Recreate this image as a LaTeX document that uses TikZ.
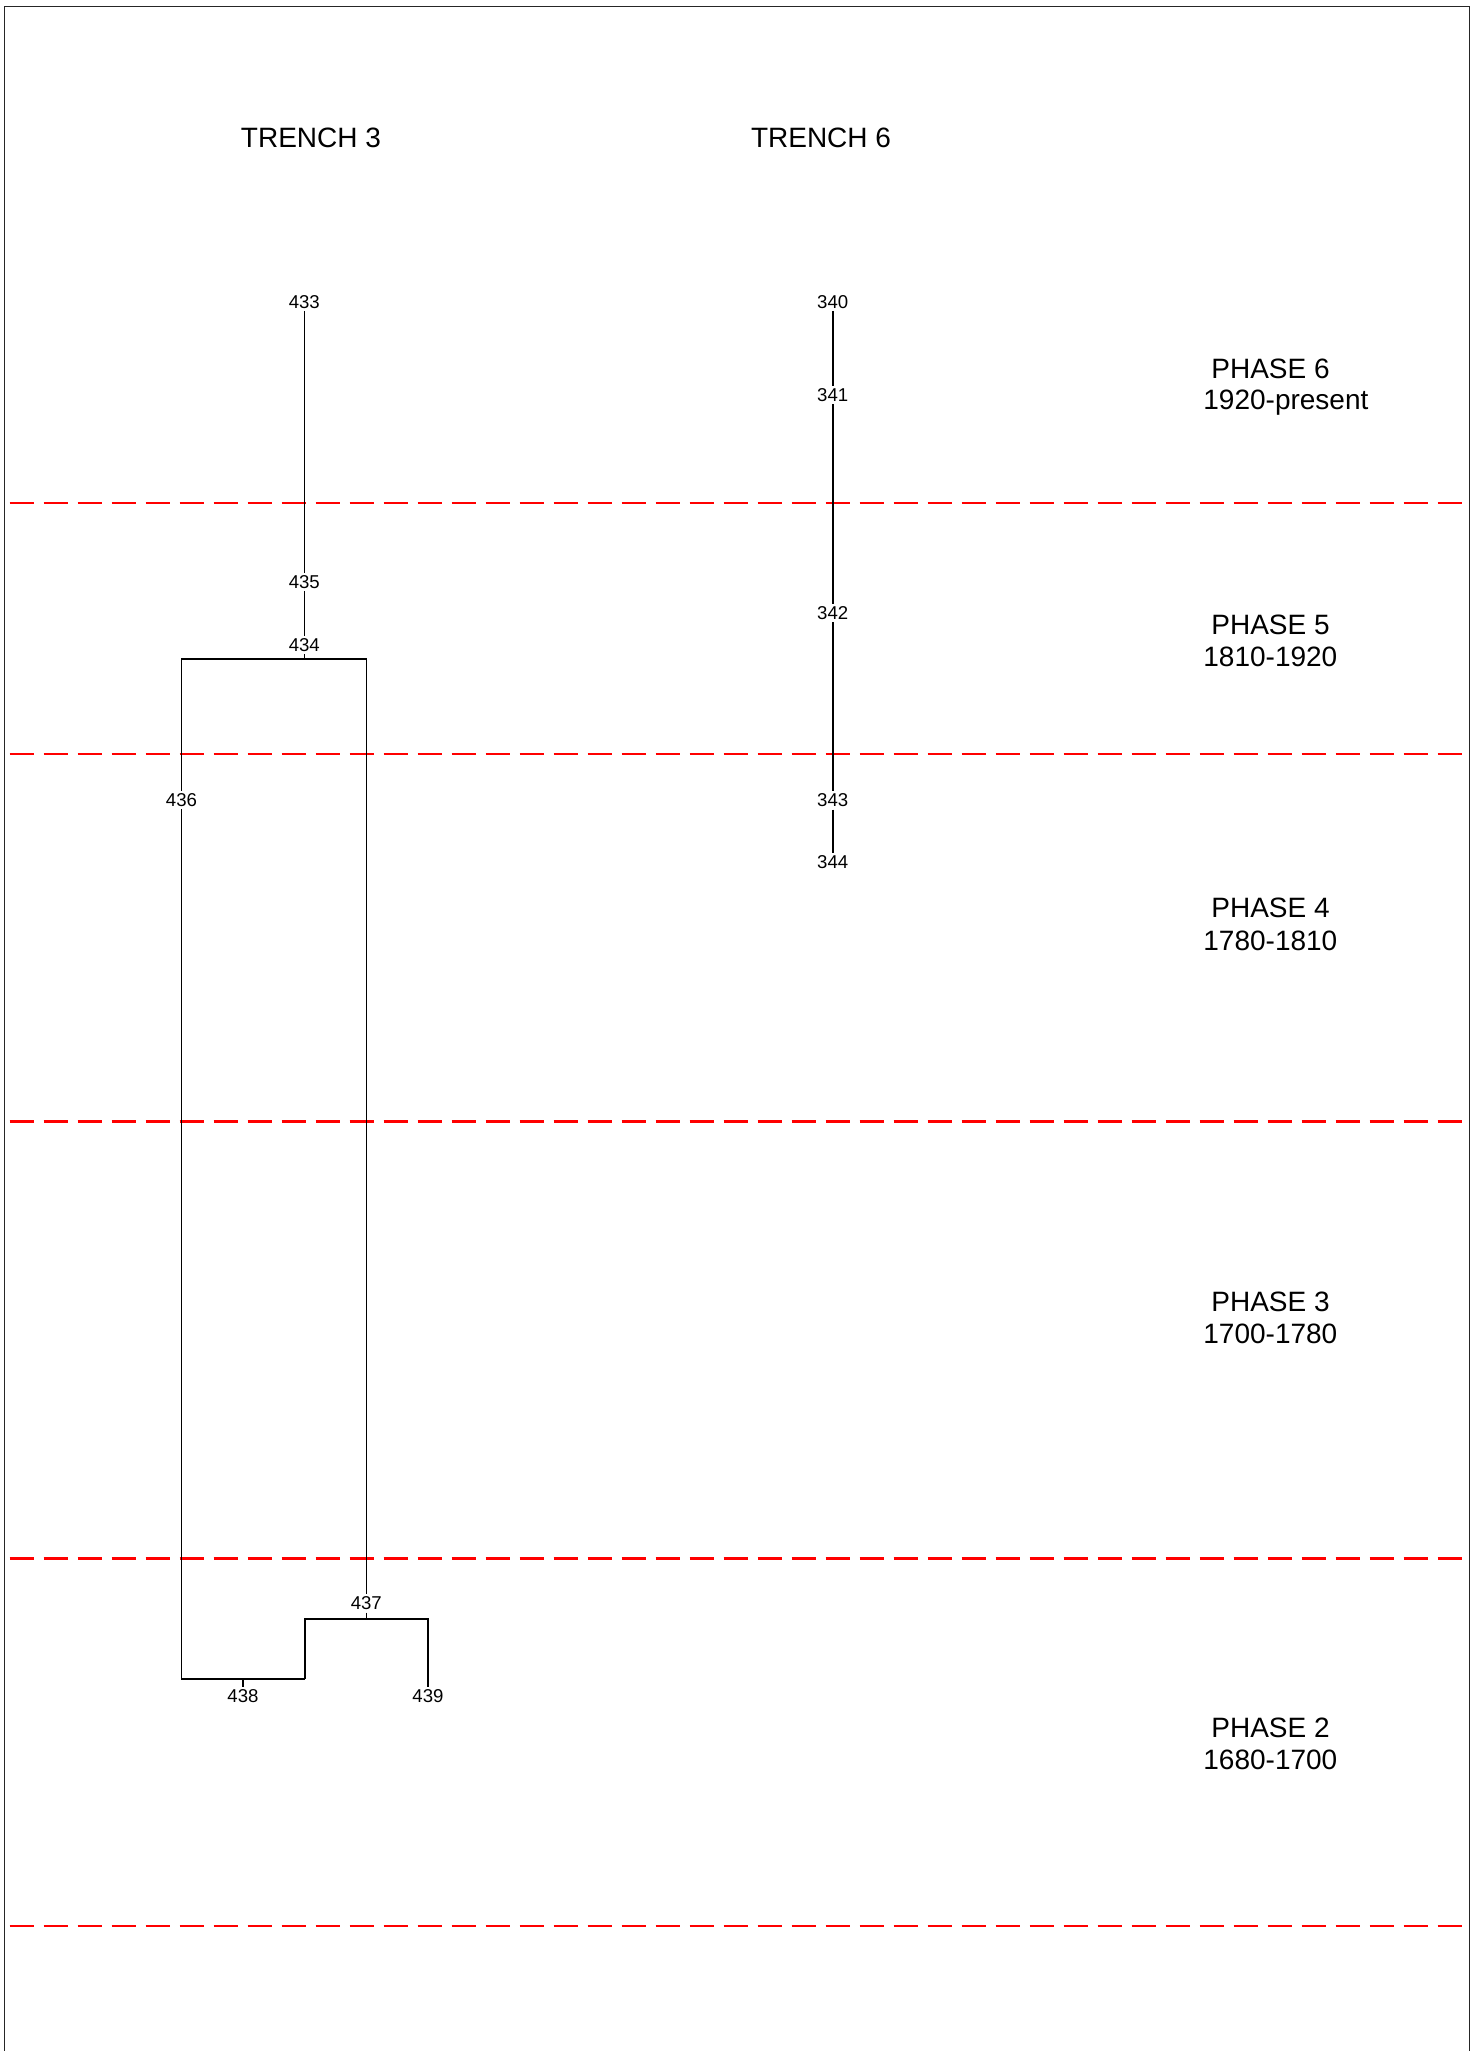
\documentclass[tikz,border=0pt]{standalone}
\usepackage{fontspec}
\setmainfont{Liberation Sans}
\begin{document}
\begin{tikzpicture}[x=0.5pt,y=-0.5pt,
  lbl/.style={font=\fontsize{9.3}{10}\selectfont, inner sep=1.1pt},
  head/.style={font=\fontsize{14}{16}\selectfont, inner sep=0pt},
  phase/.style={font=\fontsize{14}{16}\selectfont, inner sep=0pt, anchor=west},
  conn/.style={draw=black, line width=0.8pt},
  phaseline/.style={draw=red, line width=1.1pt, dash pattern=on 12pt off 5pt}]
\useasboundingbox (0,0) rectangle (1480,2051);
% frame
\draw[line width=0.5pt, black!85] (4.3,2060) -- (4.3,6.5) -- (1469,6.5) -- (1469,2060);
% phase divisions
\foreach \yy in {502.7,754,1121.5,1558.5,1926}
  \draw[phaseline] (9.5,\yy) -- (1463,\yy);
% headings
\node[head] (t3) at (311,137.4) {TRENCH 3};
\node[head] (t6) at (821,137.4) {TRENCH 6};
% phase labels
\node[phase] (p6) at (1211,369) {PHASE 6};
\node[phase] (d6) at (1203,402.7) {1920-present};
\node[phase] (p5) at (1211,624.5) {PHASE 5};
\node[phase] (d5) at (1203,657) {1810-1920};
\node[phase] (p4) at (1211,908) {PHASE 4};
\node[phase] (d4) at (1203,941) {1780-1810};
\node[phase] (p3) at (1211,1301.7) {PHASE 3};
\node[phase] (d3) at (1203,1334) {1700-1780};
\node[phase] (p2) at (1211,1728.3) {PHASE 2};
\node[phase] (d2) at (1203,1760) {1680-1700};
% trench 3 contexts
\node[lbl] (n433) at (304.3,301.7) {433};
\node[lbl] (n435) at (304.3,581.7) {435};
\node[lbl] (n434) at (304.3,645) {434};
\node[lbl] (n436) at (181.5,800) {436};
\node[lbl] (n437) at (366.3,1603.3) {437};
\node[lbl] (n438) at (243,1696) {438};
\node[lbl] (n439) at (428,1696) {439};
\coordinate (b434) at (304.3,659);
\coordinate (b437) at (366.3,1618.7);
\coordinate (b438) at (243,1679);
\coordinate (b438r) at (304.7,1679);
\draw[conn] (n433) -- (n435);
\draw[conn] (n435) -- (n434);
\draw[conn] (n434.south) -- (b434);
\draw[conn] (b434) -| (n436.north);
\draw[conn] (b434) -| (n437.north);
\draw[conn] (n436.south) |- (b438);
\draw[conn] (b438) -- (n438.north);
\draw[conn] (n437.south) -- (b437);
\draw[conn] (b437) -| (n439.north);
\draw[conn] (b437) -| (b438r);
\draw[conn] (b438r) -- (b438);
% trench 6 contexts
\node[lbl] (n340) at (832.7,301.7) {340};
\node[lbl] (n341) at (832.7,395) {341};
\node[lbl] (n342) at (832.7,613) {342};
\node[lbl] (n343) at (832.7,800.5) {343};
\node[lbl] (n344) at (832.7,861.7) {344};
\draw[conn] (n340) -- (n341);
\draw[conn] (n341) -- (n342);
\draw[conn] (n342) -- (n343);
\draw[conn] (n343) -- (n344);
\end{tikzpicture}
\end{document}
